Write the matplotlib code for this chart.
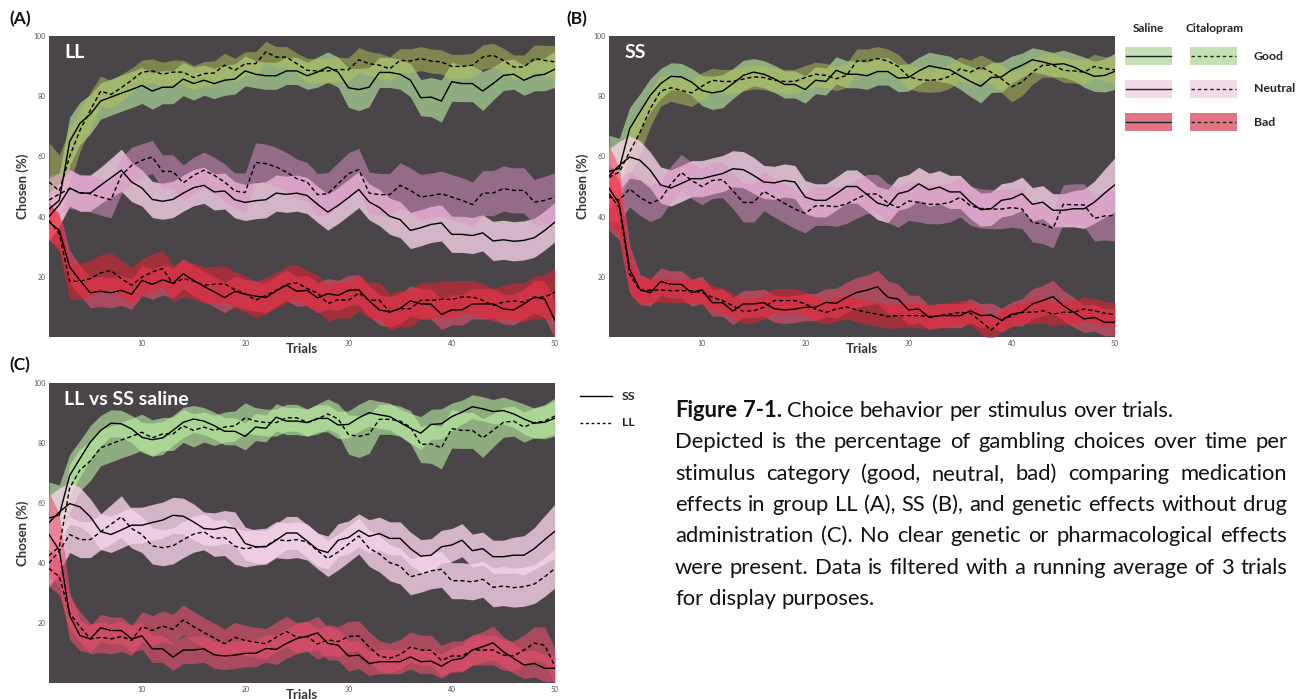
import matplotlib
matplotlib.use("Agg")
import matplotlib.pyplot as plt
from matplotlib.patches import Rectangle
from matplotlib.lines import Line2D

plt.rcParams['font.family'] = ['Lato', 'DejaVu Sans']

# ---------------- data ----------------
TRIALS = list(range(1, 51))
X_TICKS = [10, 20, 30, 40, 50]
Y_TICKS = [20, 40, 60, 80, 100]

# Group LL
LL_SAL_GOOD = [42.5, 45.4, 65, 71, 74, 78.4, 79.7, 81, 82.2, 83.6, 81.7, 83, 83, 85.7, 84.2, 85.3, 84.2, 85.3, 85.7, 88.4,
               87.3, 86.8, 86.8, 88.4, 88.4, 86.8, 88, 89.7, 88, 82.8, 82.2, 83, 87.9, 87.9, 87.3, 85.3, 79.5, 79.7, 78.4, 84.8,
               84.2, 84.2, 81.7, 84.2, 86.9, 87.3, 85.3, 86.8, 87.3, 89]
LL_CIT_GOOD = [51.5, 48.5, 60, 68.7, 75.3, 81.7, 80.6, 82.8, 85.3, 88, 88.4, 87.3, 88, 88, 86.2, 87.5, 87.7, 90.3, 88.6, 90.8,
               90.8, 94.7, 93, 93, 90.8, 88.6, 88.4, 88.4, 88.9, 88.8, 92.1, 90.8, 90.3, 89.1, 91.9, 91.7, 92.5, 91.7, 91.4, 89.9,
               89.9, 90.3, 93, 93.6, 91.9, 89.7, 89.7, 92.5, 91.9, 91.4]
LL_SAL_NEU = [40, 44, 49.5, 47.8, 47.8, 50.4, 52.9, 55.4, 51.5, 49.5, 45.7, 45.1, 45.7, 47.8, 49.6, 50.4, 48.2, 48.5, 45.6, 44.7,
              45.3, 45.6, 47.8, 47.4, 47.8, 47, 44.1, 41.5, 43.7, 46.3, 49, 44.9, 43, 40.1, 39, 35.4, 36.3, 37.4, 37.9, 34.1,
              34.1, 33.7, 34.6, 31.9, 32.3, 31.8, 32.1, 33, 35.4, 38.2]
LL_CIT_NEU = [45.5, 47.5, 49.3, 48, 47.6, 46.5, 45.6, 53.7, 57, 58.7, 59.8, 55, 55, 51.2, 53.7, 55.4, 53.7, 51.5, 48.5, 48,
              58, 57.6, 56.5, 54.8, 52.6, 51.5, 47.3, 47.6, 50.9, 54.3, 55.6, 47.8, 47.3, 47.3, 50.4, 48.7, 46.5, 47, 47.6, 46.5,
              45.4, 44, 47.8, 47.8, 49.3, 48.7, 48.7, 44.8, 45.4, 46.5]
LL_SAL_BAD = [38.2, 35.4, 23.3, 18.8, 14.7, 15.2, 14.7, 15.5, 14.2, 18.8, 17.5, 19, 17.9, 21, 18.8, 16.8, 15, 13.1, 15.2, 14.2,
              13.6, 13.1, 15.3, 17.2, 15.2, 15.5, 13, 14.4, 13.8, 15.5, 15.7, 12, 9, 8.3, 9.5, 12, 11, 10.9, 7.5, 9,
              9, 11, 11, 11, 9.3, 9, 11, 13.3, 12.6, 5.5]
LL_CIT_BAD = [38.8, 34.3, 18.5, 18.5, 19.4, 21.3, 22.1, 19.4, 17.2, 19.9, 21.6, 22.7, 17.7, 19.4, 18.6, 17.2, 17.5, 17.7, 15.7, 14.4,
              12.2, 13.8, 15.5, 17.5, 18, 16.1, 14.6, 11.1, 12.4, 12.2, 14.6, 12.2, 12.2, 8.3, 9.4, 9.4, 12.2, 12.2, 12.5, 12.5,
              13.3, 13.3, 12.2, 10.5, 11.6, 12, 11.6, 13.1, 13.3, 14.9]

LL_SAL_GOOD_SEM = [10, 9, 8, 7, 6.5, 6, 6, 6, 6, 6, 6, 5.5, 5.5, 5.5, 5.5, 5, 5, 5, 5, 5, 4.5, 4.5, 4.5, 4.5, 4.5,
                   4.5, 5, 5, 5, 6.5, 7, 6.5, 5, 5, 5, 5.5, 6, 6.5, 7, 6.5, 6, 6, 6.5, 5.5, 5, 5, 5, 5, 5.5, 6]
LL_CIT_GOOD_SEM = [13, 12, 9, 7, 6, 5, 4.5, 4.5, 4, 4, 4, 4, 4, 4, 4, 4, 4, 4, 4, 4, 4, 3.5, 3.5, 3.5, 3.5,
                   4, 4, 4, 4, 4, 4, 4, 4, 4, 4, 4, 4, 4, 4, 4, 4, 4, 4, 4, 4, 4, 4, 4.5, 5, 5.5]
LL_SAL_NEU_SEM = [8, 7, 6, 6, 6, 6, 6.5, 7, 6.5, 6, 6, 6, 6, 6, 6, 6, 6, 6, 6, 6, 6, 6, 6, 6, 6,
                  6, 6, 6, 6, 6, 6, 6, 6, 6, 6, 6, 6, 6, 6, 6, 6, 6, 6, 6.5, 6.5, 6.5, 6.5, 6.5, 6.5, 6.5]
LL_CIT_NEU_SEM = [8, 7, 6.5, 6, 6, 6, 6, 6, 6, 5.5, 5.5, 5.5, 5.5, 6, 6, 6, 6, 6, 6, 6.5, 6.5, 6.5, 6.5, 6.5, 6.5,
                  6.5, 7, 7, 7, 7, 7, 7, 7, 7, 7.5, 7.5, 7.5, 7.5, 7.5, 7.5, 7.5, 7.5, 7.5, 7.5, 7.5, 7.5, 7.5, 7.5, 8, 8]
LL_SAL_BAD_SEM = [6, 6, 5.5, 5, 5, 5, 5, 5, 5, 5, 5, 5, 5, 5, 5, 5, 5, 5, 5, 5, 5, 5, 5, 5, 5,
                  5, 5, 5, 5, 5, 5, 5, 5, 5, 5, 5, 5, 5, 5, 5, 5, 5, 5, 5, 5, 5, 5, 5.5, 6, 6]
LL_CIT_BAD_SEM = [6, 6, 6, 6, 6, 6, 6, 6, 6, 6, 6, 6, 6, 6, 6, 6, 6, 6, 6, 6, 6, 6, 6, 6, 6,
                  6, 6, 6, 6, 6, 6, 6, 6, 6, 6, 6, 6, 6, 6, 6, 5.5, 5.5, 5.5, 5.5, 5.5, 6, 6.5, 7, 7.5, 8]

# Group SS
SS_SAL_GOOD = [55, 56, 69.2, 74.8, 80.3, 84.2, 86.6, 86.4, 84.7, 81.9, 81.1, 81.7, 84.2, 86.9, 88, 87.3, 85.8, 83.9, 83.9, 82.2,
               85.3, 84.9, 88.6, 87.3, 87.3, 86.8, 88.2, 88.2, 86, 86.2, 88.4, 90.1, 89.4, 88.8, 86.8, 84.9, 83.3, 86.2, 86.4, 88.8,
               90.3, 92.1, 91.4, 90.5, 90.8, 89.7, 88, 86.6, 86.9, 88.3]
SS_CIT_GOOD = [53, 54.8, 61.5, 68, 75.9, 81.7, 82.8, 81.9, 81.1, 83.3, 85.3, 84.9, 84.9, 85.7, 86.4, 86.2, 85.3, 84.9, 84.9, 86.2,
               87.3, 86.9, 85.8, 86.9, 91.7, 91.7, 92.5, 91.7, 89.9, 86.5, 85.5, 85.3, 85.5, 86.6, 89.1, 88, 89.7, 88, 85.8, 83.1,
               84.7, 88, 90.3, 90.3, 88.6, 88.4, 88, 89.9, 89.1, 88.8]
SS_SAL_NEU = [53.5, 57, 59.8, 58.7, 55.4, 50.5, 49.5, 51, 52.6, 52.6, 53.5, 54.3, 55.9, 55.6, 53.7, 51.5, 51.2, 52, 51.5, 46.5,
              45.4, 45.4, 47.6, 50, 50, 47.3, 44.5, 43.5, 47.6, 48.5, 50.9, 48.9, 49.8, 48.2, 48.2, 44.8, 42.3, 42.6, 45.4, 46,
              47.6, 44.1, 44.8, 42.1, 42.1, 42.6, 42.6, 44.8, 47.8, 50.6]
SS_CIT_NEU = [46.5, 45.5, 49.2, 46.4, 44.4, 45.8, 50.8, 54.7, 52, 50, 52, 52.3, 48.6, 44.7, 44.7, 48.4, 46.4, 44.4, 42.5, 41.1,
              43.6, 43.6, 43.3, 44.2, 46, 47.5, 47.5, 44.5, 43, 45.2, 44.7, 44.1, 44.1, 44.7, 46.4, 43.6, 42.7, 42.5, 42.5, 43,
              42.5, 38.1, 37.5, 36.1, 44.1, 43.9, 43.9, 39.4, 40.2, 40.4]
SS_SAL_BAD = [49.5, 44.2, 22.5, 15.8, 14.7, 18.4, 17.5, 17.5, 14.7, 15.7, 11.4, 11.4, 8.6, 11, 11, 11.4, 9.4, 9, 9.3, 9.9,
              9.9, 11.5, 11.2, 13.2, 14.8, 15.6, 16.7, 13.2, 12.6, 9, 9.3, 6.5, 7.1, 7.1, 7.1, 8.7, 7.1, 7.3, 5.6, 7.6,
              8.2, 11, 12.1, 13.4, 10.4, 8.2, 6, 6.5, 4.9, 4.9]
SS_CIT_BAD = [47.5, 43, 20.9, 15.4, 15.6, 15.6, 15.4, 15.4, 15.4, 14.8, 13.2, 12.1, 10.4, 8.5, 8.7, 9.9, 12.1, 12.1, 12.1, 11,
              9.3, 8.2, 9.3, 10, 9, 8.2, 7.6, 6.8, 7.1, 7.1, 7.1, 6.8, 7.1, 7.6, 8.2, 7.9, 5.2, 2.3, 5.4, 7.1,
              8.2, 8.2, 8.7, 7.6, 8.2, 8.2, 9.3, 8.7, 7.9, 7.4]

SS_SAL_GOOD_SEM = [12, 10, 7, 6, 5.5, 5, 4.5, 4.5, 4.5, 5, 5.5, 5.5, 5, 5, 4.5, 4.5, 4.5, 4.5, 4.5, 4.5, 4.5, 4.5, 4.5, 4.5, 4.5,
                   4.5, 4.5, 4.5, 4.5, 4.5, 4.5, 4.5, 4.5, 4.5, 4.5, 5, 5.5, 5, 5, 4.5, 4, 4, 4, 4, 4.5, 4.5, 5, 5, 5.5, 6]
SS_CIT_GOOD_SEM = [10, 9, 8, 7, 6, 5, 4.5, 4.5, 4.5, 4.5, 4, 4, 4, 4, 4, 4, 4, 4, 4, 4, 4, 4, 4, 4, 4,
                   4, 4, 4, 4, 4, 4, 4, 4, 4, 4, 4, 4, 4, 4.5, 5, 4.5, 4, 4, 4, 4, 4, 4, 4, 4, 4.5]
SS_SAL_NEU_SEM = [9, 8, 7, 6.5, 6, 6, 6, 6, 6, 6, 6, 6, 6, 6, 6, 5.5, 5.5, 5.5, 5.5, 5.5, 5.5, 5.5, 5.5, 5.5, 5.5,
                  5.5, 5.5, 5.5, 5.5, 5.5, 5.5, 5.5, 5.5, 5.5, 5.5, 5.5, 5.5, 5.5, 5.5, 5.5, 5.5, 5.5, 5.5, 5.5, 5.5, 6, 6.5, 7, 8, 9]
SS_CIT_NEU_SEM = [8, 7, 6, 6, 6, 6, 6, 6, 6, 6, 6, 6, 6, 6.5, 6.5, 6.5, 6.5, 6.5, 6.5, 6.5, 6.5, 6.5, 6.5, 6.5, 6.5,
                  6.5, 6.5, 6.5, 6.5, 6.5, 6.5, 6.5, 6.5, 6.5, 6.5, 6.5, 6.5, 6.5, 6.5, 6.5, 6.5, 6.5, 6.5, 6.5, 6.5, 7, 7, 7.5, 8, 8.5]
SS_SAL_BAD_SEM = [14, 12, 8, 5, 4.5, 4.5, 4.5, 4.5, 4.5, 4.5, 4.5, 4.5, 4.5, 4.5, 4.5, 4.5, 4.5, 4.5, 4.5, 4.5, 4.5, 4.5, 5, 5, 5,
                  5, 5.5, 5.5, 5, 5, 4.5, 4, 4, 4, 4, 4, 4, 4, 4, 4, 4.5, 5, 5, 5.5, 5, 5, 4.5, 4.5, 4.5, 4.5]
SS_CIT_BAD_SEM = [10, 9, 6, 4.5, 4, 4, 4, 4, 4, 4, 4, 4, 4, 4, 4, 4, 4, 4, 4, 4, 4, 4, 4, 4, 4,
                  4, 4, 4, 4, 4, 4, 4, 4, 4, 4, 4, 4, 3.5, 3.5, 3.5, 3.5, 4, 4, 4, 4, 4, 4, 4, 4, 4]

CATEGORIES = ["Good", "Neutral", "Bad"]
TREATMENTS = ["Saline", "Citalopram"]
GENOTYPES = ["SS", "LL"]
CAPTION_TITLE = "Figure 7-1."
CAPTION_LINES = [
    "Choice behavior per stimulus over trials.",
    "Depicted is the percentage of gambling choices over time per",
    "stimulus category (good, neutral, bad) comparing medication",
    "effects in group LL (A), SS (B), and genetic effects without drug",
    "administration (C). No clear genetic or pharmacological effects",
    "were present. Data is filtered with a running average of 3 trials",
    "for display purposes.",
]

# ---------------- style ----------------
BG = "#4a4548"
SAL_COL = {"Good": ("#bdf2a4", 0.6), "Neutral": ("#f6d2e8", 0.8), "Bad": ("#ea4f6e", 0.6)}
CIT_COL = {"Good": ("#b4c35a", 0.5), "Neutral": ("#de93c6", 0.5), "Bad": ("#f61f30", 0.5)}
LEG_COL = {"Good": "#c5e0b4", "Neutral": "#f2dbe8", "Bad": "#e07583"}
DASH = (0, (3, 2))

fig = plt.figure(figsize=(13.05, 6.99), dpi=100)
W, H = 1305, 699


def px_axes(left, top, right, bottom):
    return fig.add_axes([left / W, 1 - bottom / H, (right - left) / W, (bottom - top) / H])


def band(ax, y, sem, col):
    lo = [a - s for a, s in zip(y, sem)]
    hi = [a + s for a, s in zip(y, sem)]
    ax.fill_between(TRIALS, lo, hi, color=col[0], alpha=col[1], lw=0)


def style(ax, title):
    ax.set_facecolor(BG)
    ax.set_xlim(1, 50)
    ax.set_ylim(0, 100)
    ax.set_xticks(X_TICKS)
    ax.set_yticks(Y_TICKS)
    ax.tick_params(length=0, labelsize=5, labelcolor="#555555", pad=2)
    for s in ax.spines.values():
        s.set_visible(False)
    ax.set_xlabel("Trials", fontsize=9.5, fontweight="bold", color="#333333")
    ax.set_ylabel("Chosen (%)", fontsize=9.5, fontweight="bold", color="#333333")
    ax.xaxis.set_label_coords(0.5, -0.02)
    ax.yaxis.set_label_coords(-0.04, 0.5)
    ax.text(0.03, 0.945, title, transform=ax.transAxes, color="white", fontsize=14,
            fontweight="bold", va="center", ha="left")


def drug_panel(ax, sal, cit, title):
    for cat, (s, ss), (c, cs) in zip(CATEGORIES, sal, cit):
        band(ax, s, ss, SAL_COL[cat])
        band(ax, c, cs, CIT_COL[cat])
    for cat, (s, ss), (c, cs) in zip(CATEGORIES, sal, cit):
        ax.plot(TRIALS, s, color="black", lw=1.0)
        ax.plot(TRIALS, c, color="black", lw=1.0, linestyle=DASH)
    style(ax, title)


axA = px_axes(49, 36, 555, 337)
drug_panel(axA,
           [(LL_SAL_GOOD, LL_SAL_GOOD_SEM), (LL_SAL_NEU, LL_SAL_NEU_SEM), (LL_SAL_BAD, LL_SAL_BAD_SEM)],
           [(LL_CIT_GOOD, LL_CIT_GOOD_SEM), (LL_CIT_NEU, LL_CIT_NEU_SEM), (LL_CIT_BAD, LL_CIT_BAD_SEM)], "LL")

axB = px_axes(609, 36, 1115, 337)
drug_panel(axB,
           [(SS_SAL_GOOD, SS_SAL_GOOD_SEM), (SS_SAL_NEU, SS_SAL_NEU_SEM), (SS_SAL_BAD, SS_SAL_BAD_SEM)],
           [(SS_CIT_GOOD, SS_CIT_GOOD_SEM), (SS_CIT_NEU, SS_CIT_NEU_SEM), (SS_CIT_BAD, SS_CIT_BAD_SEM)], "SS")

axC = px_axes(49, 383, 555, 683)
ss_sal = [(SS_SAL_GOOD, SS_SAL_GOOD_SEM), (SS_SAL_NEU, SS_SAL_NEU_SEM), (SS_SAL_BAD, SS_SAL_BAD_SEM)]
ll_sal = [(LL_SAL_GOOD, LL_SAL_GOOD_SEM), (LL_SAL_NEU, LL_SAL_NEU_SEM), (LL_SAL_BAD, LL_SAL_BAD_SEM)]
for cat, (s, ss), (l, ls) in zip(CATEGORIES, ss_sal, ll_sal):
    band(axC, l, ls, SAL_COL[cat])
    band(axC, s, ss, SAL_COL[cat])
for cat, (s, ss), (l, ls) in zip(CATEGORIES, ss_sal, ll_sal):
    axC.plot(TRIALS, s, color="black", lw=1.0)
    axC.plot(TRIALS, l, color="black", lw=1.0, linestyle=DASH)
style(axC, "LL vs SS saline")

# ---------------- overlay (labels, legends, caption) ----------------
ov = fig.add_axes([0, 0, 1, 1])
ov.set_xlim(0, W)
ov.set_ylim(H, 0)
ov.axis("off")
ov.patch.set_alpha(0)

for lab, x, y in [("(A)", 9, 19), ("(B)", 566, 19), ("(C)", 9, 365)]:
    ov.text(x, y, lab, fontsize=12.5, fontweight="bold", va="center", ha="left", color="#111111")

# drug legend
ov.text(1148, 29, TREATMENTS[0], fontsize=8.5, fontweight="bold", ha="center", va="center", color="#222222")
ov.text(1214, 29, TREATMENTS[1], fontsize=8.5, fontweight="bold", ha="center", va="center", color="#222222")
for i, cat in enumerate(CATEGORIES):
    yc = 56 + 33 * i
    for j, x0 in enumerate([1125, 1190]):
        ov.add_patch(Rectangle((x0, yc - 9), 47, 18, facecolor=LEG_COL[cat], edgecolor="none"))
        ov.add_line(Line2D([x0 + 1, x0 + 46], [yc, yc], color="#222222", lw=1.0,
                           linestyle="-" if j == 0 else (0, (2.5, 2))))
    ov.text(1254, yc, cat, fontsize=8.8, fontweight="bold", ha="left", va="center", color="#222222")

# genotype legend
for k, (g, ls) in enumerate(zip(GENOTYPES, ["-", (0, (2, 2))])):
    yc = 396 + 27 * k
    ov.add_line(Line2D([580, 612], [yc, yc], color="black", lw=1.0, linestyle=ls))
    ov.text(622, yc, g, fontsize=8.8, fontweight="bold", ha="left", va="center", color="#222222")

# caption (justified)
fig.canvas.draw()
r = fig.canvas.get_renderer()
FS = 15.8
X0, X1 = 675, 1287


def mk(word, weight, y):
    return ov.text(0, y, word, fontsize=FS, fontweight=weight, va="baseline", ha="left",
                   color="#111111")


probe1 = mk("a a", "normal", -50)
probe2 = mk("aa", "normal", -50)
SPACE = probe1.get_window_extent(r).width - probe2.get_window_extent(r).width
probe1.remove()
probe2.remove()

for i, line in enumerate([CAPTION_TITLE + " " + CAPTION_LINES[0]] + CAPTION_LINES[1:]):
    y = 417 + 31.3 * i
    words = line.split(" ")
    weights = ["normal"] * len(words)
    if i == 0:
        weights[0] = "bold"
        weights[1] = "bold"
    texts = [mk(w, wt, y) for w, wt in zip(words, weights)]
    widths = [t.get_window_extent(r).width for t in texts]
    justify = 0 < i < len(CAPTION_LINES) - 1
    gap = (X1 - X0 - sum(widths)) / (len(words) - 1) if justify else SPACE
    gap = max(gap, SPACE * 0.6)
    x = X0
    for t, w in zip(texts, widths):
        t.set_x(x)
        x += w + gap

fig.savefig("out.png", dpi=100)
